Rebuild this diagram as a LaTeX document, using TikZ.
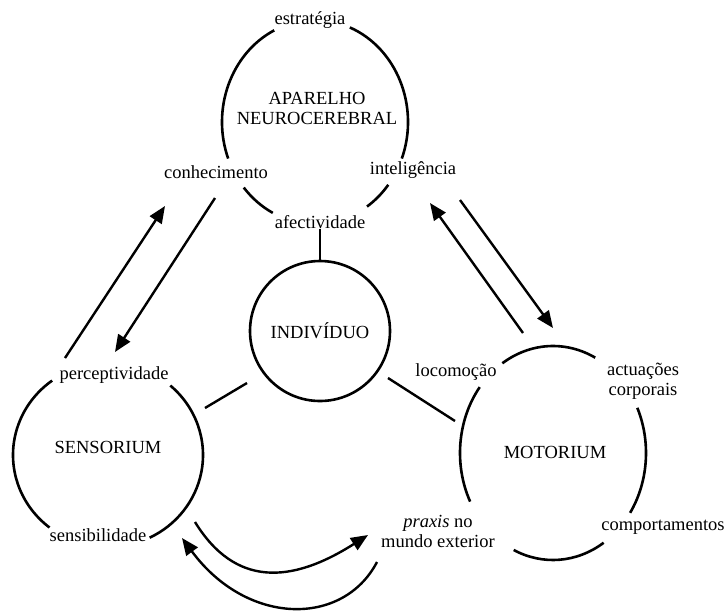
\documentclass[tikz,border=0pt]{standalone}
\usepackage{fontspec}
\setmainfont{Liberation Serif}
\usetikzlibrary{arrows.meta}
\begin{document}
\begin{tikzpicture}[x=1pt,y=-1pt,
  lbl/.style={inner sep=0pt, font=\fontsize{18.5}{20}\selectfont, align=center},
  ring/.style={line width=2.6pt},
  link/.style={line width=2.4pt},
  arr/.style={line width=2.4pt, -{Triangle[length=17pt,width=14pt]}}]
\useasboundingbox (0,0) rectangle (725,611);

% centres of the broken rings
\coordinate (cT) at (315,122);
\coordinate (cS) at (108,455);
\coordinate (cM) at (553,453);

% labels
\node[lbl] (estr) at (310,20) {estratégia};
\node[lbl] (conh) at (216,172) {conhecimento};
\node[lbl] (intel) at (413,170) {inteligência};
\node[lbl] (afect) at (320,222) {afectividade};
\node[lbl] (apar) at (317,108) {APARELHO\\NEUROCEREBRAL};
\node[lbl] (perc) at (114,375) {perceptividade};
\node[lbl] (sensib) at (98,535) {sensibilidade};
\node[lbl] (sens) at (108,447) {SENSORIUM};
\node[lbl] (loco) at (456,372) {locomoção};
\node[lbl] (actu) at (643,381) {actuações\\corporais};
\node[lbl] (motor) at (555,452) {MOTORIUM};
\node[lbl] (comp) at (663,527) {comportamentos};
\node[lbl] (praxis) at (438,531) {\textit{praxis} no\\mundo exterior};
\node[lbl, draw, circle, line width=2.6pt, minimum size=140pt] (indiv) at (320,331) {INDIVÍDUO};

% top ring (aparelho neurocerebral)
\draw[ring] ([shift={(159:93 and 102)}]cT) arc[start angle=159, end angle=244, x radius=93, y radius=102];
\draw[ring] ([shift={(-68:93 and 102)}]cT) arc[start angle=-68, end angle=21, x radius=93, y radius=102];
\draw[ring] ([shift={(117:93 and 102)}]cT) arc[start angle=117, end angle=140, x radius=93, y radius=102];
\draw[ring] ([shift={(38:93 and 102)}]cT) arc[start angle=38, end angle=56, x radius=93, y radius=102];

% sensorium ring
\draw[ring] ([shift={(-49:95 and 92)}]cS) arc[start angle=-49, end angle=64, x radius=95, y radius=92];
\draw[ring] ([shift={(128:95 and 92)}]cS) arc[start angle=128, end angle=234, x radius=95, y radius=92];

% motorium ring
\draw[ring] ([shift={(-123:93 and 107)}]cM) arc[start angle=-123, end angle=-63, x radius=93, y radius=107];
\draw[ring] ([shift={(-25:93 and 107)}]cM) arc[start angle=-25, end angle=34, x radius=93, y radius=107];
\draw[ring] ([shift={(57:93 and 107)}]cM) arc[start angle=57, end angle=115, x radius=93, y radius=107];
\draw[ring] ([shift={(153:93 and 107)}]cM) arc[start angle=153, end angle=218, x radius=93, y radius=107];

% plain links
\draw[link] (afect.south) -- (indiv.north);
\coordinate (is1) at (247,383);
\coordinate (is2) at (205,408);
\draw[link] (is1) -- (is2);
\coordinate (im1) at (388,378);
\coordinate (im2) at (455,421);
\draw[link] (im1) -- (im2);

% arrows left
\coordinate (la1) at (65,358);
\coordinate (la2) at (165,206);
\draw[arr] (la1) -- (la2);
\coordinate (lb1) at (215,198);
\coordinate (lb2) at (115,352);
\draw[arr] (lb1) -- (lb2);

% arrows right
\coordinate (ra1) at (523,333);
\coordinate (ra2) at (430,203);
\draw[arr] (ra1) -- (ra2);
\coordinate (rb1) at (460,200);
\coordinate (rb2) at (553,328);
\draw[arr] (rb1) -- (rb2);

% curved arrows bottom
\coordinate (ba1) at (195,522);
\coordinate (ba2) at (368,535);
\draw[arr] (ba1) .. controls (235,587) and (291,584) .. (ba2);
\coordinate (bb1) at (377,562);
\coordinate (bb2) at (182,538);
\draw[arr] (bb1) .. controls (343,627) and (247,626) .. (bb2);
\end{tikzpicture}
\end{document}
